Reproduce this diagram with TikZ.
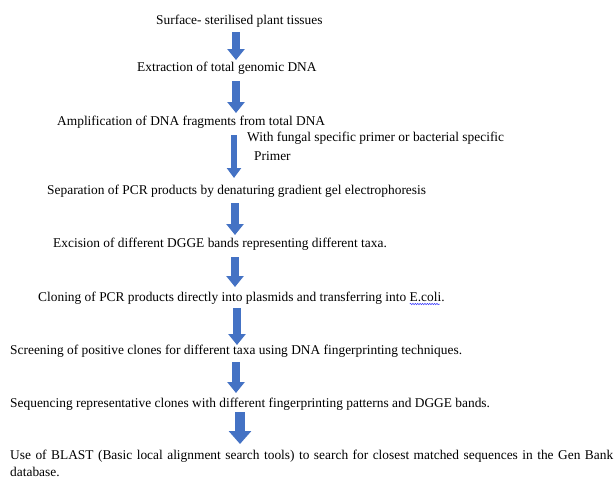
\documentclass[tikz,border=0pt]{standalone}
\usepackage{fontspec}
\setmainfont{Liberation Serif}
\usetikzlibrary{arrows.meta,calc,decorations.pathmorphing}
\definecolor{arrowblue}{HTML}{4472C4}
\begin{document}
\begin{tikzpicture}[x=1pt,y=-1pt,
  txt/.style={anchor=base west, inner sep=0pt, font=\fontsize{13.4}{16}\selectfont},
  blk/.style={draw=arrowblue, line width=8pt, -{Triangle[width=17pt,length=11pt]}},
  thinblk/.style={draw=arrowblue, line width=6pt, -{Triangle[width=14pt,length=10pt]}},
  wideblk/.style={draw=arrowblue, line width=10pt, -{Triangle[width=22pt,length=13pt]}},
  squiggle/.style={draw=blue!80!white, line width=0.5pt, decorate, decoration={snake, amplitude=0.7pt, segment length=2.4pt}}]
\useasboundingbox (0,0) rectangle (615,479);
\node[txt] (s1) at (156,24) {Surface- sterilised plant tissues};
\node[txt] (s2) at (137,71) {Extraction of total genomic DNA};
\node[txt] (s3) at (57,125) {Amplification of DNA fragments from total DNA};
\node[txt] (l1) at (247,141) {With fungal specific primer or bacterial specific};
\node[txt] (l2) at (254,160) {Primer};
\node[txt] (s4) at (47,194) {Separation of PCR products by denaturing gradient gel electrophoresis};
\node[txt] (s5) at (53,247) {Excision of different DGGE bands representing different taxa.};
\node[txt] (s6) at (38,301) {Cloning of PCR products directly into plasmids and transferring into E.coli.};
\node[txt] (s7) at (10,354) {Screening of positive clones for different taxa using DNA fingerprinting techniques.};
\node[txt] (s8) at (10,407) {Sequencing representative clones with different fingerprinting patterns and DGGE bands.};
\node[txt] (s9) at (10,459) {\hbox to 603pt{Use of BLAST (Basic local alignment search tools) to search for closest matched sequences in the Gen Bank}};
\node[txt] (s10) at (10,476) {database.};
\draw[blk] ($(s1.base -| 236,0)+(0,8)$) -- ($(s2.base -| 236,0)+(0,-11)$);
\draw[blk] ($(s2.base -| 236,0)+(0,10)$) -- ($(s3.base -| 236,0)+(0,-12)$);
\draw[thinblk] ($(s3.base -| 234,0)+(0,10)$) -- ($(s4.base -| 234,0)+(0,-16)$);
\draw[blk] ($(s4.base -| 235,0)+(0,9)$) -- ($(s5.base -| 235,0)+(0,-12)$);
\draw[blk] ($(s5.base -| 235,0)+(0,10)$) -- ($(s6.base -| 235,0)+(0,-14)$);
\draw[blk] ($(s6.base -| 237,0)+(0,7)$) -- ($(s7.base -| 237,0)+(0,-9)$);
\draw[blk] ($(s7.base -| 236,0)+(0,8)$) -- ($(s8.base -| 236,0)+(0,-14)$);
\draw[wideblk] ($(s8.base -| 240,0)+(0,5)$) -- ($(s9.base -| 240,0)+(0,-15)$);
\draw[squiggle] ($(s6.base east)+(-35,3)$) -- ($(s6.base east)+(-5,3)$);
\end{tikzpicture}
\end{document}
